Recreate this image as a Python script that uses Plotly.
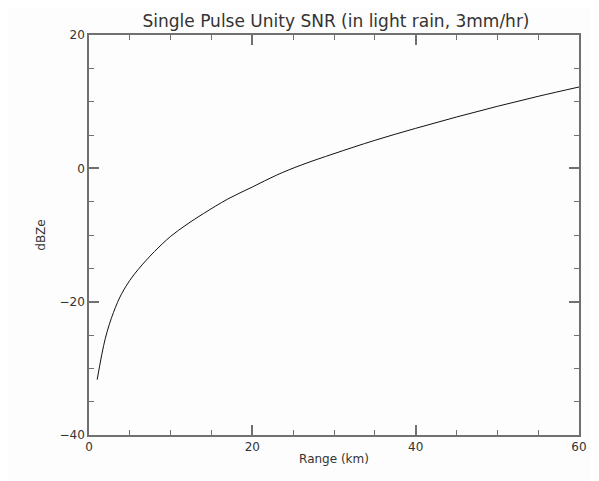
import plotly.graph_objects as go

range_km = [1, 2, 3, 4, 5, 6, 7, 8, 10, 12, 14, 17, 20, 23, 26, 30, 35, 40, 45, 50, 55, 60]
dbze = [-31.7, -25.5, -21.6, -18.8, -16.8, -15.2, -13.8, -12.5, -10.2, -8.4, -6.8, -4.6,
        -2.8, -1.0, 0.5, 2.2, 4.2, 6.0, 7.7, 9.3, 10.8, 12.2]

title_text = "Single Pulse Unity SNR (in light rain, 3mm/hr)"
x_title = "Range (km)"
y_title = "dBZe"

axis_color = "#707070"
font_family = "DejaVu Sans, Liberation Sans, sans-serif"

fig = go.Figure()
fig.add_trace(go.Scatter(x=range_km, y=dbze, mode="lines",
                         line=dict(color="#111111", width=1), line_shape="spline",
                         showlegend=False, hoverinfo="skip"))

common = dict(showgrid=False, zeroline=False, showline=True, linecolor=axis_color,
              linewidth=1.5, mirror="allticks", ticks="inside", ticklen=10,
              tickwidth=1.5, tickcolor=axis_color,
              tickfont=dict(family=font_family, size=12, color="#333333"),
              minor=dict(ticks="inside", ticklen=5, tickwidth=1, tickcolor=axis_color, dtick=5))

fig.update_layout(
    width=591, height=473,
    margin=dict(l=81, r=12, t=27, b=46),
    paper_bgcolor="#fdfdfd", plot_bgcolor="#fdfdfd",
    font=dict(family=font_family, color="#333333"),
    title=dict(text=title_text, x=0.555, xanchor="center", y=0.972, yanchor="middle",
               font=dict(size=17, family=font_family, color="#333333")),
    xaxis=dict(range=[0, 60], tickvals=[0, 20, 40, 60], title=dict(text=x_title, standoff=1,
               font=dict(size=12, family=font_family, color="#333333")), **common),
    yaxis=dict(range=[-40, 20], tickvals=[-40, -20, 0, 20], title=dict(text=y_title, standoff=11,
               font=dict(size=12, family=font_family, color="#333333")), **common),
)

fig.write_html("out.html")
